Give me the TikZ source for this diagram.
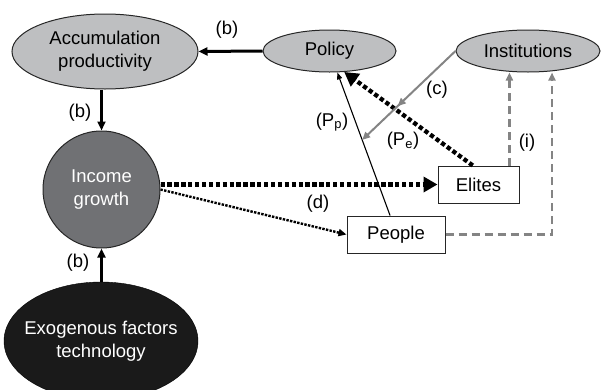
\documentclass[tikz,border=0pt]{standalone}
\usepackage{fontspec}
\setmainfont{Liberation Sans}
\usetikzlibrary{arrows.meta,shapes.geometric,calc,decorations.markings}
\definecolor{lightfill}{RGB}{190,191,193}
\definecolor{midfill}{RGB}{112,113,116}
\definecolor{darkfill}{RGB}{26,26,26}
\definecolor{linegray}{RGB}{132,132,132}
\begin{document}
\begin{tikzpicture}[x=1pt,y=-1pt,
  every node/.style={font=\fontsize{18.5}{23}\selectfont, inner sep=0pt},
  ell/.style={ellipse, draw=black!85, line width=1pt, fill=lightfill, align=center},
  boxnode/.style={rectangle, draw=black!85, line width=1pt, fill=white},
  solidarrow/.style={line width=3pt, -{Triangle[length=9pt,width=8pt]}},
  bigdots/.style={line width=4.3pt, line cap=butt, dash pattern=on 4.3pt off 2.6pt, -{Triangle[length=14pt,width=15pt]}},
  smalldots/.style={line width=2.4pt, line cap=butt, dash pattern=on 2.4pt off 1.3pt, -{Triangle[length=8pt,width=7pt]}},
  graydash/.style={linegray, line width=2.4pt, dash pattern=on 8pt off 5pt, -{Triangle[length=8pt,width=7pt]}},
  grayline/.style={linegray, line width=2pt, -{Triangle[length=8pt,width=7pt]},
    postaction={decorate},
    decoration={markings, mark=at position 0.62 with {\arrow{Triangle[length=8pt,width=7pt]}}}},
  thinarrow/.style={line width=1.1pt, -{Triangle[length=7pt,width=5pt]}}
]
\useasboundingbox (0,0) rectangle (603,389);

% nodes
\node[ell, minimum width=186pt, minimum height=75pt] (acc) at (105,51.5) {Accumulation\\productivity};
\node[ell, minimum width=133pt, minimum height=42pt] (pol) at (329.5,51) {Policy};
\node[ell, minimum width=144pt, minimum height=42pt] (ins) at (528,51) {Institutions};
\node[circle, draw=black!85, line width=1pt, fill=midfill, text=white, align=center, minimum size=117pt] (inc) at (101.5,189.5) {Income\\growth};
\node[ellipse, draw=black, fill=darkfill, text=white, align=center, inner xsep=-14pt, minimum width=194pt, minimum height=118pt] (exo) at (101,341) {Exogenous factors\\technology};
\node[boxnode, minimum width=81pt, minimum height=37pt] (eli) at (478.5,184.5) {Elites};
\node[boxnode, minimum width=98pt, minimum height=37pt] (peo) at (396,234.5) {People};

% helper coordinates
\coordinate (ppstart) at ($(peo.north west)!0.44!(peo.north east)$);
\coordinate (ppend) at (pol.-70);
\coordinate (cend) at ($(ppstart)!0.528!(ppend)$);
\coordinate (pestart) at ($(eli.north west)!0.43!(eli.north east)$);
\coordinate (istart) at ($(eli.north west)!0.877!(eli.north east)$);
\coordinate (pcorner) at ($(ins.south)+(24,0)$);

% connectors
\draw[solidarrow] (pol.west) -- (acc.east);
\draw[solidarrow] (inc.north |- acc.south) -- (inc.north);
\draw[solidarrow] (inc.south |- exo.north) -- (inc.south);
\draw[bigdots] (inc.east |- eli.west) -- (eli.west);
\draw[smalldots] (inc.east) -- (peo.west);
\draw[thinarrow] (ppstart) -- (ppend);
\draw[bigdots] (pestart) -- (pol.-55);
\draw[grayline] (ins.west) -- (cend);
\draw[graydash] (istart) -- (istart |- ins.south);
\draw[graydash] (peo.east) -| (pcorner);

% labels
\node (lb1) at (227,30) {(b)};
\node (lb2) at (80,113) {(b)};
\node (lb3) at (78,263) {(b)};
\node (ld) at (318,204) {(d)};
\node (lpp) at (332,122) {(P\textsubscript{p})};
\node (lpe) at (403,141) {(P\textsubscript{e})};
\node (lc) at (437,90) {(c)};
\node (li) at (527,143) {(i)};
\end{tikzpicture}
\end{document}
